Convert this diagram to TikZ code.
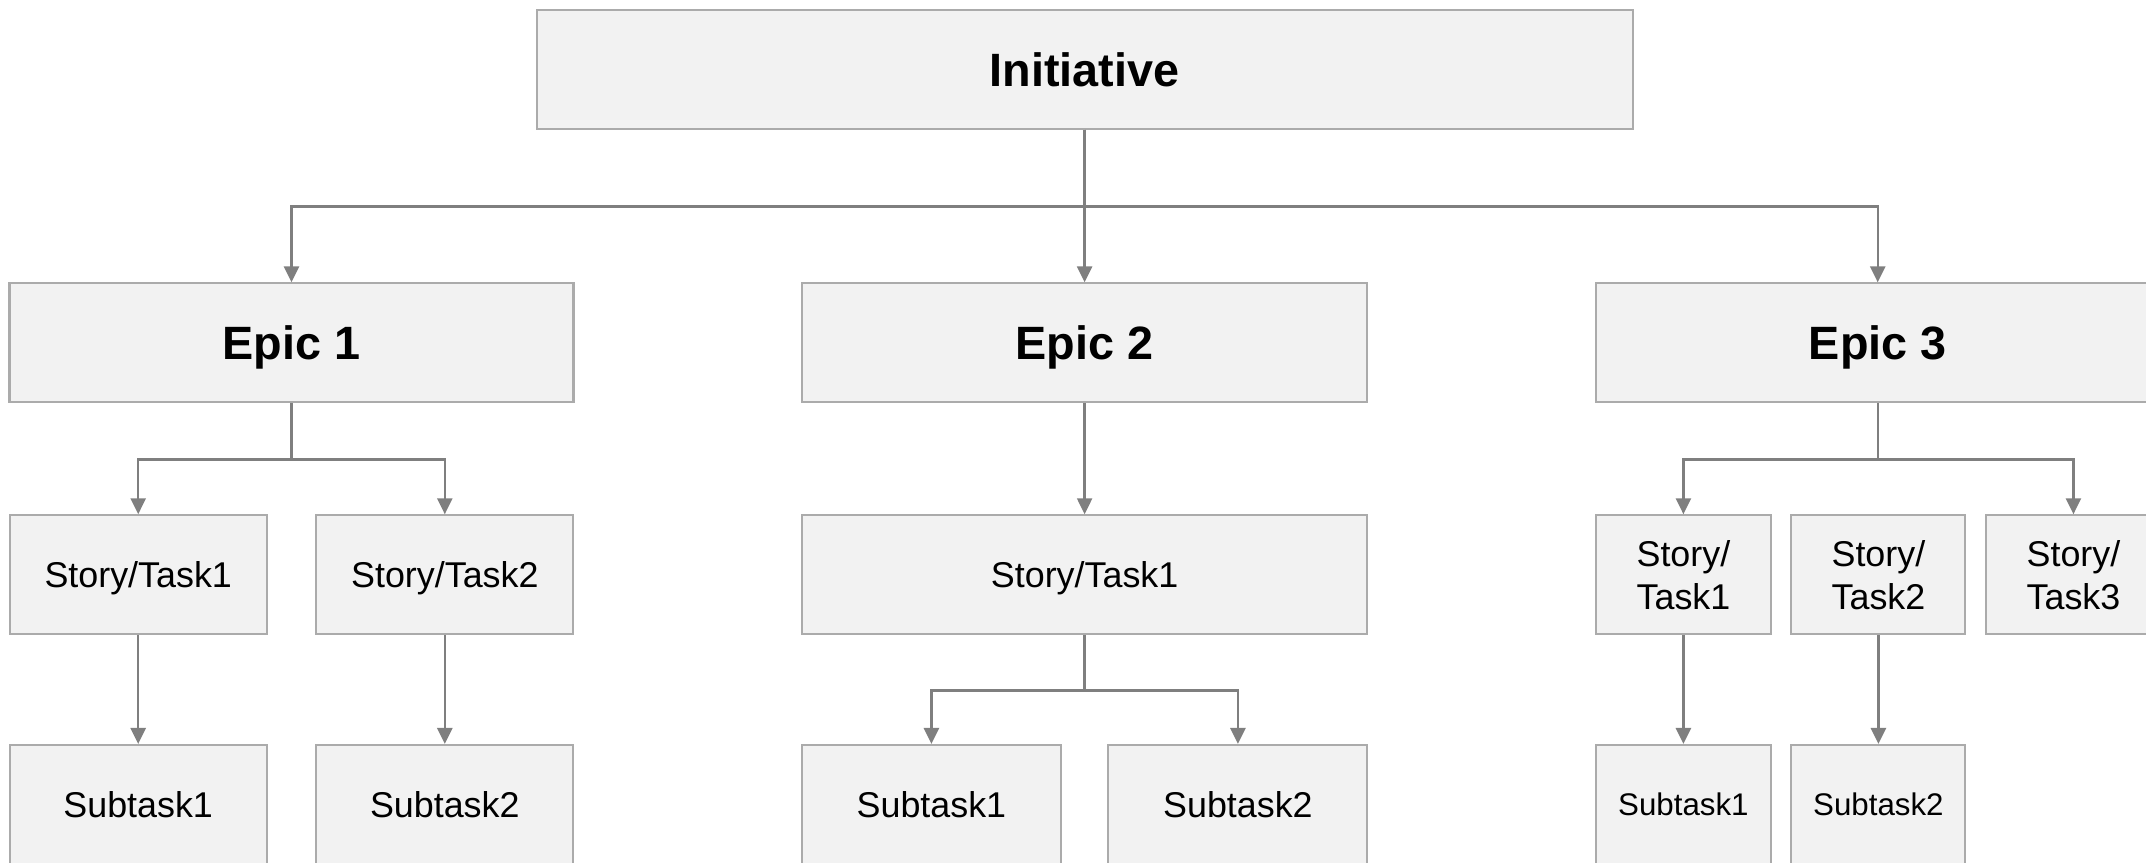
\documentclass[tikz,border=0pt]{standalone}
\usepackage{fontspec}
\setmainfont{Liberation Sans}
\usetikzlibrary{arrows.meta}
\definecolor{boxfill}{HTML}{F2F2F2}
\definecolor{boxline}{HTML}{ABABAB}
\definecolor{linkgray}{HTML}{7F7F7F}

\begin{document}
\begin{tikzpicture}[
    box/.style={draw=boxline, fill=boxfill, line width=0.6pt, inner sep=0pt,
                minimum height=1.19cm, align=center, text depth=0pt,
                font=\fontsize{10.2}{12.4}\selectfont},
    head/.style={box, font=\fontsize{13.3}{16}\selectfont\bfseries},
    small/.style={box, font=\fontsize{8.9}{11}\selectfont},
    link/.style={draw=linkgray, line width=0.7pt,
                 -{Triangle[length=1.6mm,width=1.5mm]}}
  ]
    \useasboundingbox (0,0) rectangle (21.46,-8.62);

    \node[head, minimum width=10.96cm] (init) at (10.846,-0.691) {Initiative};

    \node[head, minimum width=5.64cm] (epic1) at (2.915,-3.429) {Epic 1};
    \node[head, minimum width=5.65cm] (epic2) at (10.846,-3.429) {Epic 2};
    \node[head, minimum width=5.64cm] (epic3) at (18.777,-3.429) {Epic 3};

    \node[box, minimum width=2.57cm] (st11) at (1.382,-5.748) {Story/Task1};
    \node[box, minimum width=2.57cm] (st12) at (4.448,-5.748) {Story/Task2};
    \node[box, minimum width=5.65cm] (st21) at (10.846,-5.748) {Story/Task1};
    \node[box, minimum width=1.75cm] (st31) at (16.834,-5.748) {Story/\\Task1};
    \node[box, minimum width=1.74cm] (st32) at (18.784,-5.748) {Story/\\Task2};
    \node[box, minimum width=1.75cm] (st33) at (20.734,-5.748) {Story/\\Task3};

    \node[box, minimum width=2.57cm] (sub11) at (1.382,-8.045) {Subtask1};
    \node[box, minimum width=2.57cm] (sub12) at (4.448,-8.045) {Subtask2};
    \node[box, minimum width=2.59cm] (sub21) at (9.314,-8.045) {Subtask1};
    \node[box, minimum width=2.59cm] (sub22) at (12.379,-8.045) {Subtask2};
    \node[small, minimum width=1.75cm] (sub31) at (16.834,-8.045) {Subtask1};
    \node[small, minimum width=1.74cm] (sub32) at (18.784,-8.045) {Subtask2};

    \draw[link] (init.south) -- ++(0,-0.767) -| (epic1.north);
    \draw[link] (init.south) -- (epic2.north);
    \draw[link] (init.south) -- ++(0,-0.767) -| (epic3.north);

    \draw[link] (epic1.south) -- ++(0,-0.56) -| (st11.north);
    \draw[link] (epic1.south) -- ++(0,-0.56) -| (st12.north);
    \draw[link] (st11.south) -- (sub11.north);
    \draw[link] (st12.south) -- (sub12.north);

    \draw[link] (epic2.south) -- (st21.north);
    \draw[link] (st21.south) -- ++(0,-0.55) -| (sub21.north);
    \draw[link] (st21.south) -- ++(0,-0.55) -| (sub22.north);

    \draw[link] (epic3.south) -- ++(0,-0.56) -| (st31.north);
    \draw[link] (epic3.south) -- ++(0,-0.56) -| (st33.north);
    \draw[link] (st31.south) -- (sub31.north);
    \draw[link] (st32.south) -- (sub32.north);
\end{tikzpicture}
\end{document}
